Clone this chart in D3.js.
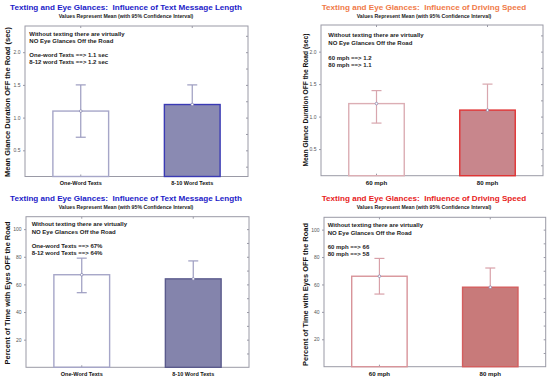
<!DOCTYPE html>
<html>
<head>
<meta charset="utf-8">
<script src="https://cdn.jsdelivr.net/npm/d3@7"></script>
<style>
  body { margin: 0; background: #fff; }
  svg { display: block; font-family: Arial, "Liberation Sans", sans-serif; }
  .title { white-space: pre; }
</style>
</head>
<body>
<svg id="chart" width="550" height="380"></svg>
<script>
// ---- data ----
const lengthCategories = ["One-Word Texts", "8-10 Word Texts"]
const speedCategories = ["60 mph", "80 mph"]

const durationLengthMean = [1.1, 1.2]
const durationLengthLow = [0.7, 0.9]
const durationLengthHigh = [1.5, 1.5]

const durationSpeedMean = [1.2, 1.1]
const durationSpeedLow = [0.9, 0.8]
const durationSpeedHigh = [1.4, 1.5]

const percentLengthMean = [67, 64]
const percentLengthLow = [54, 51]
const percentLengthHigh = [79, 77]

const percentSpeedMean = [66, 58]
const percentSpeedLow = [53, 44]
const percentSpeedHigh = [79, 72]

const durationTicks = [0.5, 1.0, 1.5, 2.0]
const durationMinorTicks = [0.25, 0.5, 0.75, 1.0, 1.25, 1.5, 1.75, 2.0, 2.25]
const percentTicks = [20, 40, 60, 80, 100]
const percentMinorTicks = [10, 20, 30, 40, 50, 60, 70, 80, 90, 100]

const lengthTitle = "Texting and Eye Glances:  Influence of Text Message Length"
const speedTitle = "Texting and Eye Glances:  Influence of Driving Speed"
const subTitle = "Values Represent Mean (with 95% Confidence Interval)"

const durationLengthNotes = ["Without texting there are virtually", "NO Eye Glances Off the Road", "One-word Texts ==> 1.1 sec", "8-12 word Texts ==> 1.2 sec"]
const durationSpeedNotes = ["Without texting there are virtually", "NO Eye Glances Off the Road", "60 mph ==> 1.2", "80 mph ==> 1.1"]
const percentLengthNotes = ["Without texting there are virtually", "NO Eye Glances Off the Road", "One-word Texts ==> 67%", "8-12 word Texts ==> 64%"]
const percentSpeedNotes = ["Without texting there are virtually", "NO Eye Glances Off the Road", "60 mph ==> 66", "80 mph ==> 58"]

const svg = d3.select("#chart")

// layout + styling of each panel
const panels = [
  {
    left: 25, right: 248, top: 26, bottom: 176.5, domain: [0.1, 2.4],
    categories: lengthCategories, mean: durationLengthMean, low: durationLengthLow, high: durationLengthHigh,
    ticks: durationTicks, minor: durationMinorTicks, tickFmt: d3.format(".1f"),
    title: lengthTitle, titleColor: "#1c1cc8", titleX: 126, titleY: 9.7, subY: 18,
    yLabel: "Mean Glance Duration OFF the Road (sec)", yLabelX: 9.5, yLabelY: 102, yLabelSize: 7.5,
    catSize: 5.5, catY: 185.2,
    notes: durationLengthNotes, noteX: 29.3, noteY: 35.5, noteGaps: [0, 7.4, 21, 28.4],
    barStroke: ["#a6a6c8", "#3a3ab4"], barFill: ["#fff", "#8a8ab2"], errColor: "#9c9cc0"
  },
  {
    left: 321, right: 543, top: 25, bottom: 175.7, domain: [0.09, 2.41],
    categories: speedCategories, mean: durationSpeedMean, low: durationSpeedLow, high: durationSpeedHigh,
    ticks: durationTicks, minor: durationMinorTicks, tickFmt: d3.format(".1f"),
    title: speedTitle, titleColor: "#f07a48", titleX: 424, titleY: 9.7, subY: 18,
    yLabel: "Mean Glance Duration OFF the Road (sec)", yLabelX: 307.5, yLabelY: 100, yLabelSize: 6.65,
    catSize: 6.1, catY: 184.5,
    notes: durationSpeedNotes, noteX: 328.3, noteY: 36.9, noteGaps: [0, 7.6, 22.6, 29.6],
    barStroke: ["#dcaeb4", "#e03434"], barFill: ["#fff", "#c8868c"], errColor: "#d8a6ae"
  },
  {
    left: 26, right: 249, top: 216.7, bottom: 367.3, domain: [0, 109],
    categories: lengthCategories, mean: percentLengthMean, low: percentLengthLow, high: percentLengthHigh,
    ticks: percentTicks, minor: percentMinorTicks, tickFmt: d3.format("d"),
    title: lengthTitle, titleColor: "#1c1cc8", titleX: 126, titleY: 201.2, subY: 209.4,
    yLabel: "Percent of Time with Eyes OFF the Road", yLabelX: 9.5, yLabelY: 293, yLabelSize: 7.45,
    catSize: 5.5, catY: 376.2,
    notes: percentLengthNotes, noteX: 31.7, noteY: 226.2, noteGaps: [0, 7.7, 21.3, 28.3],
    barStroke: ["#a6a6c8", "#5a5a8c"], barFill: ["#fff", "#8484ac"], errColor: "#9c9cc0"
  },
  {
    left: 324, right: 545.7, top: 217.3, bottom: 366.7, domain: [0, 109],
    categories: speedCategories, mean: percentSpeedMean, low: percentSpeedLow, high: percentSpeedHigh,
    ticks: percentTicks, minor: percentMinorTicks, tickFmt: d3.format("d"),
    title: speedTitle, titleColor: "#e82222", titleX: 424, titleY: 201.2, subY: 209.4,
    yLabel: "Percent of Time with Eyes OFF the Road", yLabelX: 308, yLabelY: 294.5, yLabelSize: 7.45,
    catSize: 6.1, catY: 375.6,
    notes: percentSpeedNotes, noteX: 327.7, noteY: 226.9, noteGaps: [0, 7.6, 22, 29.3],
    barStroke: ["#d8949a", "#d45e5e"], barFill: ["#fff", "#c87a7a"], errColor: "#d8a0a8"
  }
]

function drawPanel(p){
  const g = svg.append("g")
  const x = d3.scaleBand().domain(p.categories).range([p.left, p.right]).paddingInner(0.5).paddingOuter(0.25)
  const y = d3.scaleLinear().domain(p.domain).range([p.bottom, p.top])
  const rows = p.categories.map((c, i) => ({cat: c, i: i, mean: p.mean[i], low: p.low[i], high: p.high[i]}))

  // titles
  g.append("text").attr("class", "title").attr("x", p.titleX).attr("y", p.titleY).attr("text-anchor", "middle")
    .attr("font-size", 8.1).attr("font-weight", "bold").attr("fill", p.titleColor).text(p.title)
  g.append("text").attr("x", p.titleX).attr("y", p.subY).attr("text-anchor", "middle")
    .attr("font-size", 5.2).attr("font-weight", "bold").attr("fill", "#222").text(subTitle)

  // frame
  g.append("rect").attr("x", p.left).attr("y", p.top)
    .attr("width", p.right - p.left).attr("height", p.bottom - p.top)
    .attr("fill", "#fff").attr("stroke", "#9a9aa6").attr("stroke-width", 1)

  // left axis (outward ticks) and right axis (inward minor ticks)
  const leftAxis = g.append("g").attr("transform", `translate(${p.left},0)`)
    .call(d3.axisLeft(y).tickValues(p.ticks).tickFormat(p.tickFmt).tickSize(2).tickPadding(2.5))
  leftAxis.select(".domain").remove()
  leftAxis.selectAll("line").attr("stroke", "#9a9aa6")
  leftAxis.selectAll("text").attr("font-size", 5).attr("fill", "#555").attr("font-family", null)

  const rightAxis = g.append("g").attr("transform", `translate(${p.right},0)`)
    .call(d3.axisLeft(y).tickValues(p.minor).tickFormat("").tickSize(2))
  rightAxis.select(".domain").remove()
  rightAxis.selectAll("line").attr("stroke", "#9a9aa6")

  // category ticks on top and bottom edges
  const centers = p.categories.map(c => x(c) + x.bandwidth() / 2)
  g.selectAll("line.topTick").data(centers).join("line").attr("class", "topTick")
    .attr("x1", d => d).attr("x2", d => d).attr("y1", p.top).attr("y2", p.top + 2).attr("stroke", "#9a9aa6")
  g.selectAll("line.botTick").data(centers).join("line").attr("class", "botTick")
    .attr("x1", d => d).attr("x2", d => d).attr("y1", p.bottom).attr("y2", p.bottom - 2).attr("stroke", "#9a9aa6")

  // error bars go first so the filled bar hides its lower whisker
  const err = g.selectAll("g.err").data(rows).join("g").attr("class", "err")
    .attr("stroke", p.errColor).attr("stroke-width", 1.2)
  err.append("line").attr("x1", d => x(d.cat) + x.bandwidth() / 2).attr("x2", d => x(d.cat) + x.bandwidth() / 2)
    .attr("y1", d => y(d.low)).attr("y2", d => y(d.high))
  err.append("line").attr("x1", d => x(d.cat) + x.bandwidth() / 2 - 5).attr("x2", d => x(d.cat) + x.bandwidth() / 2 + 5)
    .attr("y1", d => y(d.high)).attr("y2", d => y(d.high))
  err.append("line").attr("x1", d => x(d.cat) + x.bandwidth() / 2 - 5).attr("x2", d => x(d.cat) + x.bandwidth() / 2 + 5)
    .attr("y1", d => y(d.low)).attr("y2", d => y(d.low))

  // bars (first one is hollow)
  g.selectAll("rect.bar").data(rows).join("rect").attr("class", "bar")
    .attr("x", d => x(d.cat)).attr("width", x.bandwidth())
    .attr("y", d => y(d.mean)).attr("height", d => p.bottom - y(d.mean))
    .attr("fill", d => d.i == 0 ? "none" : p.barFill[d.i])
    .attr("stroke", d => p.barStroke[d.i]).attr("stroke-width", 1.4)

  // mean markers
  g.selectAll("circle.mean").data(rows).join("circle").attr("class", "mean")
    .attr("cx", d => x(d.cat) + x.bandwidth() / 2).attr("cy", d => y(d.mean)).attr("r", 1.3)
    .attr("fill", "#fff").attr("stroke", "#8080aa").attr("stroke-width", 0.7)

  // category labels
  g.selectAll("text.cat").data(p.categories).join("text").attr("class", "cat")
    .attr("x", d => x(d) + x.bandwidth() / 2).attr("y", p.catY).attr("text-anchor", "middle")
    .attr("font-size", p.catSize).attr("font-weight", "bold").attr("fill", "#111").text(d => d)

  // y label
  g.append("text").attr("transform", `translate(${p.yLabelX},${p.yLabelY}) rotate(-90)`)
    .attr("text-anchor", "middle").attr("font-size", p.yLabelSize).attr("font-weight", "bold")
    .attr("fill", "#111").text(p.yLabel)

  // annotation
  g.selectAll("text.note").data(p.notes).join("text").attr("class", "note")
    .attr("x", p.noteX).attr("y", (d, i) => p.noteY + p.noteGaps[i])
    .attr("font-size", 6).attr("font-weight", "bold").attr("fill", "#222").text(d => d)
}

for(const p of panels){
  drawPanel(p)
}
</script>
</body>
</html>
